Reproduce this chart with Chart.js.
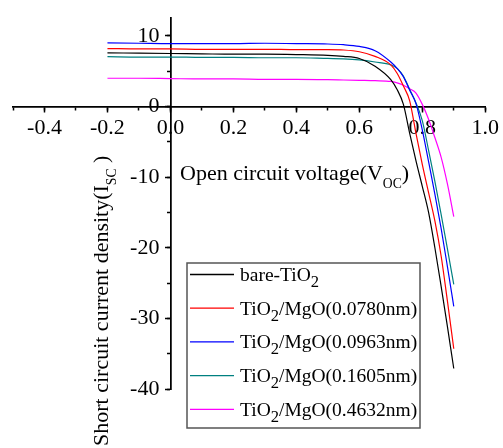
<!DOCTYPE html>
<html>
<head>
<meta charset="utf-8">
<script src="https://cdn.jsdelivr.net/npm/chart.js@4/dist/chart.umd.min.js"></script>
<style>
  body { margin: 0; background: #fff; }
  #wrap { width: 503px; height: 448px; }
</style>
</head>
<body>
<div id="wrap"><canvas id="iv" width="503" height="448"></canvas></div>
<script>
// voltage grid (V) shared by all curves
const voltage = [-0.2, -0.1, 0, 0.1, 0.2, 0.3, 0.4, 0.5, 0.55, 0.6, 0.65, 0.7, 0.72, 0.74, 0.76, 0.78, 0.8, 0.82, 0.84, 0.86, 0.88, 0.9];
// current density for each sample
const bareTiO2 = [7.6, 7.55, 7.5, 7.45, 7.4, 7.4, 7.35, 7.25, 7.1, 6.8, 5.7, 3.8, 2.4, 0.3, -3.8, -7.7, -11.3, -15.0, -20.0, -25.5, -31.2, -37.1];
const mgo0780 = [8.2, 8.15, 8.15, 8.1, 8.1, 8.1, 8.05, 8.05, 8.0, 7.75, 7.1, 5.9, 4.7, 2.9, 0.8, -3.8, -8.2, -12.2, -16.2, -21.2, -27.6, -34.3];
const mgo0963 = [9.0, 8.95, 8.9, 8.9, 8.9, 8.95, 8.9, 8.85, 8.75, 8.5, 7.9, 6.3, 5.4, 4.2, 2.3, 0.4, -3.3, -7.8, -12.4, -17.3, -22.7, -28.3];
const mgo1605 = [7.05, 7.0, 7.0, 6.95, 6.95, 6.9, 6.9, 6.8, 6.75, 6.6, 6.3, 5.9, 5.4, 4.3, 2.4, 0.5, -2.0, -6.2, -10.6, -15.3, -20.2, -25.2];
const mgo4632 = [4.0, 4.0, 3.95, 3.9, 3.9, 3.85, 3.85, 3.8, 3.75, 3.7, 3.65, 3.55, 3.35, 3.0, 2.5, 1.9, 0.3, -1.8, -4.4, -7.2, -11.0, -15.6];

// legend labels, "_{..}" marks a subscript
const seriesLabels = ["bare-TiO_{2}", "TiO_{2}/MgO(0.0780nm)", "TiO_{2}/MgO(0.0963nm)", "TiO_{2}/MgO(0.1605nm)", "TiO_{2}/MgO(0.4632nm)"];
const seriesValues = [bareTiO2, mgo0780, mgo0963, mgo1605, mgo4632];
const seriesColors = ["#000000", "#ff0000", "#0000ff", "#008080", "#ff00ff"];

const xTitle = "Open circuit voltage(V_{OC})";
const yTitle = "Short circuit current density(I_{SC} )";

const FONT = "'Liberation Serif', serif";
Chart.defaults.font.family = FONT;

// split "abc_{de}f" into pieces
function parseRich(str) {
  const parts = [];
  const re = /_\{([^}]*)\}/g;
  let last = 0, m;
  while ((m = re.exec(str)) !== null) {
    if (m.index > last) parts.push({ t: str.slice(last, m.index), sub: false });
    parts.push({ t: m[1], sub: true });
    last = re.lastIndex;
  }
  if (last < str.length) parts.push({ t: str.slice(last), sub: false });
  return parts;
}

// draw text with subscripts starting at (x, y) baseline
function drawRich(ctx, str, x, y, size, subScale, subDrop) {
  ctx.textAlign = "left";
  ctx.textBaseline = "alphabetic";
  for (const p of parseRich(str)) {
    const s = p.sub ? size * subScale : size;
    ctx.font = s + "px " + FONT;
    ctx.fillText(p.t, x, p.sub ? y + subDrop : y);
    x += ctx.measureText(p.t).width;
  }
}

const decorPlugin = {
  id: "decor",
  afterDraw(chart) {
    const ctx = chart.ctx;
    ctx.save();
    ctx.fillStyle = "#000";

    // x axis title, sits inside the plot next to the y axis
    drawRich(ctx, xTitle, 180, 180, 22, 0.62, 8);

    // y axis title, rotated
    ctx.save();
    ctx.translate(108, 446);
    ctx.rotate(-Math.PI / 2);
    drawRich(ctx, yTitle, 0, 0, 22, 0.62, 8);
    ctx.restore();

    // legend box
    const bx = 187, by = 263, bw = 233, bh = 165;
    ctx.fillStyle = "#fff";
    ctx.fillRect(bx, by, bw, bh);
    ctx.strokeStyle = "#555";
    ctx.lineWidth = 1.5;
    ctx.strokeRect(bx, by, bw, bh);
    chart.data.datasets.forEach((ds, i) => {
      const ry = 274.5 + i * 33.7;
      ctx.strokeStyle = ds.borderColor;
      ctx.lineWidth = 1.3;
      ctx.beginPath();
      ctx.moveTo(190, ry);
      ctx.lineTo(234, ry);
      ctx.stroke();
      ctx.fillStyle = "#000";
      drawRich(ctx, ds.label, 240, ry + 6.5, 19.5, 0.85, 6);
    });
    ctx.restore();
  }
};

const datasets = seriesLabels.map((label, i) => ({
  label: label,
  data: voltage.map((v, j) => ({ x: v, y: seriesValues[i][j] })),
  borderColor: seriesColors[i],
  backgroundColor: seriesColors[i],
  borderWidth: 1.2,
  pointRadius: 0,
  fill: false,
  cubicInterpolationMode: "monotone",
  xAxisID: "x",
  yAxisID: "y"
}));

new Chart(document.getElementById("iv"), {
  type: "line",
  data: { datasets: datasets },
  plugins: [decorPlugin],
  options: {
    responsive: false,
    animation: false,
    layout: { padding: { left: 13, right: 15, top: 14, bottom: 59 } },
    plugins: { legend: { display: false }, tooltip: { enabled: false } },
    scales: {
      x: {
        type: "linear",
        position: { y: 0 },
        min: -0.5, max: 1.0,
        grid: { drawOnChartArea: false, tickLength: 5, tickColor: "#000", tickWidth: 1.5 },
        border: { color: "#000", width: 1.5 },
        ticks: {
          stepSize: 0.2, includeBounds: false, autoSkip: false, maxRotation: 0,
          padding: 4, color: "#000", font: { family: FONT, size: 22 },
          callback: v => v.toFixed(1)
        }
      },
      xm: {
        type: "linear",
        axis: "x",
        position: { y: 0 },
        min: -0.5, max: 1.0,
        grid: { drawOnChartArea: false, tickLength: 3, tickColor: "#000", tickWidth: 1.5 },
        border: { color: "#000", width: 1.5 },
        ticks: { stepSize: 0.1, autoSkip: false, maxRotation: 0, callback: () => "" }
      },
      y: {
        type: "linear",
        position: { x: 0 },
        min: -40, max: 12.5,
        grid: { drawOnChartArea: false, tickLength: 5, tickColor: "#000", tickWidth: 1.5 },
        border: { color: "#000", width: 1.5 },
        ticks: {
          stepSize: 10, includeBounds: false, autoSkip: false,
          padding: 5, color: "#000", font: { family: FONT, size: 22 },
          // labels are right-aligned on the axis line itself, so pad with spaces
          callback: v => String(v) + "  "
        }
      },
      ym: {
        type: "linear",
        axis: "y",
        position: { x: 0 },
        min: -40, max: 12.5,
        grid: { drawOnChartArea: false, tickLength: 3, tickColor: "#000", tickWidth: 1.5 },
        border: { color: "#000", width: 1.5 },
        ticks: { stepSize: 5, includeBounds: false, autoSkip: false, callback: () => "" }
      }
    }
  }
});
</script>
</body>
</html>
